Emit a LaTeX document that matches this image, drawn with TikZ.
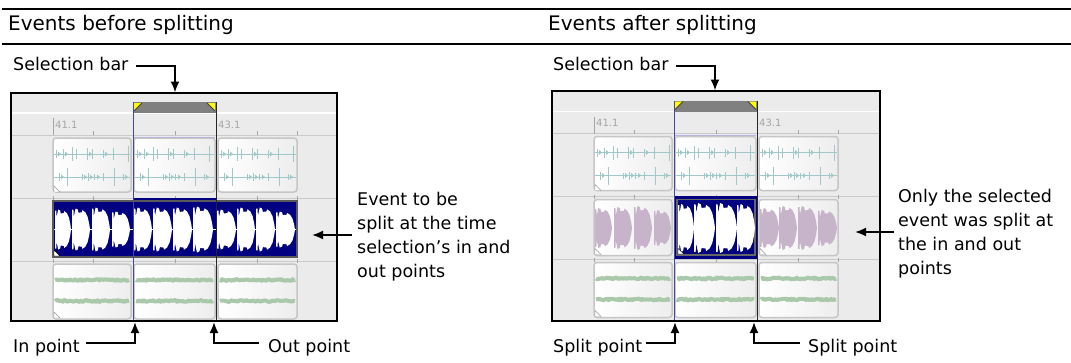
\documentclass[tikz,border=0pt]{standalone}
\usepackage{fontspec}
\setmainfont{DejaVu Sans}
\usetikzlibrary{arrows.meta,decorations.pathmorphing,calc}
\definecolor{panelbg}{RGB}{235,235,235}
\definecolor{sepgray}{RGB}{202,202,202}
\definecolor{evborder}{RGB}{198,198,198}
\definecolor{evnavy}{RGB}{0,0,128}
\definecolor{selblue}{RGB}{70,70,170}
\definecolor{selbar}{RGB}{128,128,128}
\definecolor{selyellow}{RGB}{255,255,0}
\definecolor{tealwave}{RGB}{160,200,200}
\definecolor{greenwave}{RGB}{170,200,170}
\definecolor{purplewave}{RGB}{200,180,202}
\definecolor{rulergray}{RGB}{165,165,165}
\pgfmathsetseed{4242}

\tikzset{
  rule/.style={line width=2pt},
  header/.style={anchor=base west, inner sep=0pt, font=\fontsize{20}{24}\selectfont},
  lbl/.style={inner sep=0pt, font=\fontsize{17.5}{24}\selectfont},
  callout/.style={line width=1.8pt, -{Latex[length=11pt,width=9pt]}},
  rulerlabel/.style={inner sep=0pt, text=rulergray, font=\fontsize{10}{10}\selectfont},
  rulertick/.style={draw=rulergray, line width=0.8pt},
  evbox/.style={draw=evborder, line width=1.5pt, left color=white, right color=black!7, rounded corners=3pt},
  tealline/.style={draw=tealwave, line width=0.9pt},
  greenband/.style={draw=greenwave, line width=4pt, line join=round, decorate, decoration={random steps, segment length=1.3pt, amplitude=0.9pt}},
  corner/.style={fill=white, draw=black!40, line width=0.4pt}
}

\newcommand\wblob[5]{% x0, width, height, centre, colour
  \fill[#5] (#1,{#4-0.3*#3}) -- (#1,{#4-0.95*#3}) -- ({#1+0.08*#2},{#4-0.95*#3}) -- ({#1+0.1*#2},{#4-0.6*#3}) -- ({#1+0.16*#2},{#4-0.85*#3}) -- ({#1+0.2*#2},{#4-1.0*#3}) -- ({#1+0.32*#2},{#4-0.95*#3}) -- ({#1+0.36*#2},{#4-0.8*#3}) -- ({#1+0.55*#2},{#4-0.82*#3}) -- ({#1+0.58*#2},{#4-0.92*#3}) -- ({#1+0.74*#2},{#4-0.82*#3}) -- ({#1+0.87*#2},{#4-0.6*#3}) -- ({#1+0.96*#2},{#4-0.25*#3}) -- ({#1+#2},{#4}) -- ({#1+0.96*#2},{#4+0.25*#3}) -- ({#1+0.87*#2},{#4+0.6*#3}) -- ({#1+0.74*#2},{#4+0.82*#3}) -- ({#1+0.58*#2},{#4+0.92*#3}) -- ({#1+0.55*#2},{#4+0.82*#3}) -- ({#1+0.36*#2},{#4+0.8*#3}) -- ({#1+0.32*#2},{#4+0.95*#3}) -- ({#1+0.2*#2},{#4+1.0*#3}) -- ({#1+0.16*#2},{#4+0.85*#3}) -- ({#1+0.1*#2},{#4+0.6*#3}) -- ({#1+0.08*#2},{#4+0.95*#3}) -- (#1,{#4+0.95*#3}) -- (#1,{#4+0.3*#3}) -- cycle;}

\newcommand\tealwaves[2]{%
  \draw[tealline] ({#1+1},154) -- ({#1+#2-1},154);
  \draw[tealline] ({#1+1},177) -- ({#1+#2-1},177);
  \foreach \oo/\hh in {3/4,10/5,19/7,23/5,34/6,39/5,50/4,60/6,75/8}
    {\draw[tealline] ({#1+\oo},{154-\hh}) -- ({#1+\oo},{154+\hh});}
  \foreach \oo in {5,12,36,52}
    {\fill[tealwave] ({#1+\oo},151.5) -- ({#1+\oo+3},154) -- ({#1+\oo},156.5) -- cycle;}
  \foreach \oo/\hh in {6/4,14/9,29/3,35/4,41/3,50/4,61/9,70/3}
    {\draw[tealline] ({#1+\oo},{177-\hh}) -- ({#1+\oo},{177+\hh});}
  \foreach \oo in {8,31,37,44,72}
    {\fill[tealwave] ({#1+\oo},174.5) -- ({#1+\oo+3},177) -- ({#1+\oo},179.5) -- cycle;}
}

\newcommand\greenwaves[2]{%
  \foreach \yy in {280,301}
    {\draw[greenband] ({#1+2},\yy) -- ({#1+#2-2},\yy);}
}

\newcommand\drawpanel[4]{% variant, top, right, bottom
  \begin{scope}
    \clip (11,#2) rectangle (#3,#4);
    \fill[panelbg] (11,#2) rectangle (#3,#4);
    \draw[white, line width=1.2pt] (11,113) -- (#3,113);
    \foreach \yy in {135,198,261} {\draw[sepgray, line width=1pt] (11,\yy) -- (#3,\yy);}
    \draw[rulertick] (53,118) -- (53,135);
    \foreach \xx in {93,175,257,297} {\draw[rulertick] (\xx,131) -- (\xx,135);}
    \foreach \xx in {53,93,175,257,297} {\draw[rulertick] (\xx,196) -- (\xx,200); \draw[rulertick] (\xx,259) -- (\xx,263);}
    \node[rulerlabel, anchor=west] at (55,124.5) {41.1};
    \node[rulerlabel, anchor=west] at (218,124.5) {43.1};
    % track 1
    \foreach \ex/\ew in {53/78,134/81,218/79}
      {\draw[evbox] (\ex,138) rectangle ++(\ew,54); \tealwaves{\ex}{\ew}}
    \fill[corner] (54,192) -- (54,186) -- (60,192) -- cycle;
    % track 3
    \foreach \ex/\ew in {53/78,134/81,218/79}
      {\draw[evbox] (\ex,264) rectangle ++(\ew,55); \greenwaves{\ex}{\ew}}
    \fill[corner] (54,318) -- (54,312) -- (60,318) -- cycle;
    % track 2
    \ifnum#1=0
      \fill[evnavy] (133,198) rectangle (216,201);
      \draw[fill=evnavy, draw=black!65, line width=2pt] (53,201) rectangle (297,257);
      \draw[white, line width=0.5pt] (54,229.5) -- (296,229.5);
      \foreach \bx/\bw/\bh in {55/16/20,72/18/21,92/18/22,112/18/18,134/18/22,153/19/22,173/19/22,193/20/23,217/19/20,237/18/22,256/19/22,276/19/18}
        {\wblob{\bx}{\bw}{\bh}{229.5}{white}}
      \draw[black!55, line width=1pt] (133,203) -- (133,255);
      \draw[black!55, line width=1pt] (216,203) -- (216,255);
      \fill[white, draw=black, line width=0.4pt] (54,256) -- (54,250) -- (60,256) -- cycle;
      \draw[evnavy, line width=1.5pt] (133,320.5) -- (216,320.5);
    \else
      \foreach \ex/\ew in {53/78,218/79}
        {\draw[evbox] (\ex,201) rectangle ++(\ew,56);}
      \foreach \bx/\bw/\bh in {54/17/20,73/18/21,93/18/22,113/17/18,219/19/20,238/18/22,257/19/22,277/19/18}
        {\wblob{\bx}{\bw}{\bh}{229.5}{purplewave}}
      \fill[corner] (54,256) -- (54,250) -- (60,256) -- cycle;
      \fill[corner] (219,256) -- (219,250) -- (225,256) -- cycle;
      \fill[evnavy] (133.5,197.5) rectangle (216,260.5);
      \draw[black!60, line width=1.5pt] (136,201) rectangle (214,256.5);
      \foreach \bx/\bw/\bh in {137/16/24,153/21/25,175/21/25,196/18/24}
        {\wblob{\bx}{\bw}{\bh}{229.5}{white}}
      \fill[white, draw=black, line width=0.4pt] (137,255.5) -- (137,250) -- (143,255.5) -- cycle;
    \fi
    % selection
    \fill[selbar] (133,102) rectangle (216,113);
    \fill[selyellow] (134,103) -- (142,103) -- (134,111) -- cycle;
    \draw[black!75, line width=0.8pt] (142,103) -- (134,111);
    \fill[selyellow] (207,103) -- (215,103) -- (215,111) -- cycle;
    \draw[black!75, line width=0.8pt] (207,103) -- (215,111);
    \draw[selblue!40, line width=1pt] (134,137) -- (215,137);
    \draw[selblue, line width=1pt] (133,102) -- (133,#4);
    \draw[black!85, line width=1pt] (216,102) -- (216,#4);
  \end{scope}
  \draw[black, line width=1.3pt] (11,#2) rectangle (#3,#4);
}

\begin{document}
\begin{tikzpicture}[x=1pt,y=-1pt]
\useasboundingbox (0,0) rectangle (1071,362);
\fill[white] (0,0) rectangle (1071,362);
\draw[rule] (2,9) -- (1071,9);
\draw[rule] (2,44) -- (1071,44);
\node[header] (hL) at (8,30) {Events before splitting};
\node[header] (hR) at (548,30) {Events after splitting};

\drawpanel{0}{93}{337}{321}
\begin{scope}[shift={(541,-1.5)}]
  \drawpanel{1}{92.5}{339}{322.5}
\end{scope}

% left annotations
\node[lbl, anchor=base west] (selL) at (13,70) {Selection bar};
\coordinate (selLk) at (175,66);
\coordinate (selLt) at (175,92.5);
\draw[callout] ($(selL.east |- selLk)+(7,0)$) -- (selLk) -- (selLt);

\node[lbl, anchor=base west] (inL) at (13,352) {In point};
\coordinate (inLk) at (135,343);
\coordinate (inLt) at (135,322);
\draw[callout] ($(inL.east |- inLk)+(6,0)$) -- (inLk) -- (inLt);

\node[lbl, anchor=base west] (outL) at (268,352) {Out point};
\coordinate (outLk) at (214,343);
\coordinate (outLt) at (214,322);
\draw[callout] ($(outL.west |- outLk)+(-9,0)$) -- (outLk) -- (outLt);

\node[lbl, anchor=north west, align=left] (evL) at (357,191.5) {Event to be\\split at the time\\selection’s in and\\out points};
\coordinate (evLt) at (312,235);
\draw[callout] ($(evL.west |- evLt)+(-5,0)$) -- (evLt);

% right annotations
\node[lbl, anchor=base west] (selR) at (553,70) {Selection bar};
\coordinate (selRk) at (715,66);
\coordinate (selRt) at (715,90.5);
\draw[callout] ($(selR.east |- selRk)+(7,0)$) -- (selRk) -- (selRt);

\node[lbl, anchor=base west] (spL) at (553,352) {Split point};
\coordinate (spLk) at (675,343);
\coordinate (spLt) at (675,322);
\draw[callout] ($(spL.east |- spLk)+(4,0)$) -- (spLk) -- (spLt);

\node[lbl, anchor=base west] (spR) at (808,352) {Split point};
\coordinate (spRk) at (754,343);
\coordinate (spRt) at (754,322);
\draw[callout] ($(spR.west |- spRk)+(-8,0)$) -- (spRk) -- (spRt);

\node[lbl, anchor=north west, align=left] (onR) at (898,188.5) {Only the selected\\event was split at\\the in and out\\points};
\coordinate (onRt) at (855,232);
\draw[callout] ($(onR.west |- onRt)+(-4,0)$) -- (onRt);
\end{tikzpicture}
\end{document}
